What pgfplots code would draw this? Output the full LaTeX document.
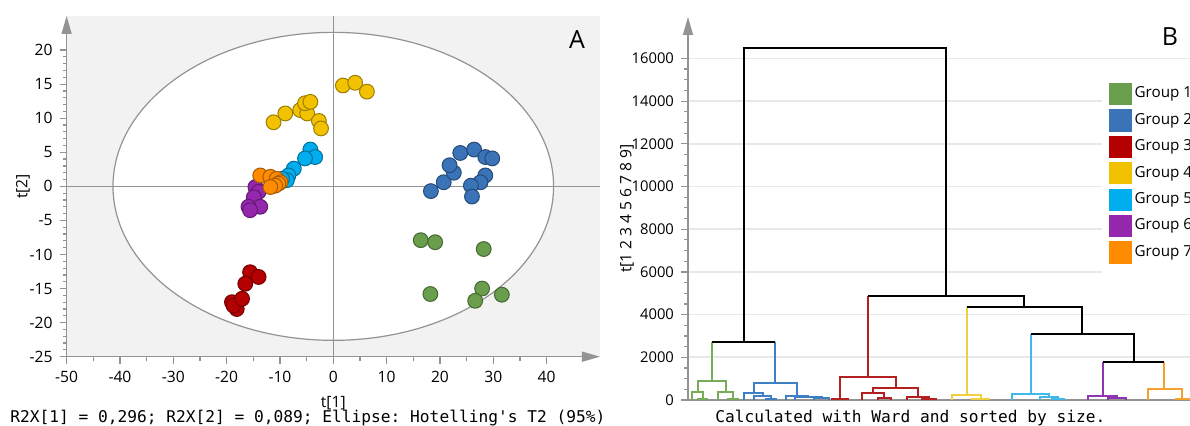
\documentclass[border=0pt]{standalone}
\usepackage{fontspec}
\setmainfont{Open Sans}
\setmonofont{DejaVu Sans Mono}
\usepackage{pgfplots}
\pgfplotsset{compat=1.18}
\usetikzlibrary{arrows.meta}

% group colours (scores + legend)
\definecolor{gone}{HTML}{6A9E4C}
\definecolor{gtwo}{HTML}{3A73B8}
\definecolor{gthree}{HTML}{B40000}
\definecolor{gfour}{HTML}{F2C200}
\definecolor{gfive}{HTML}{00ADEF}
\definecolor{gsix}{HTML}{9527AE}
\definecolor{gseven}{HTML}{FF8C00}
% dendrogram line colours
\definecolor{done}{HTML}{78AC5A}
\definecolor{dtwo}{HTML}{3F7FC4}
\definecolor{dthree}{HTML}{B22020}
\definecolor{dfour}{HTML}{F0D040}
\definecolor{dfive}{HTML}{40B8E8}
\definecolor{dsix}{HTML}{9035B0}
\definecolor{dseven}{HTML}{F5A030}

\pgfplotsset{
  pt/.style={only marks, mark=*, mark size=3.7pt,
    mark options={fill=#1, draw=#1!65!black, line width=0.5pt}},
  sqleg/.style={legend image code/.code={\fill[#1] (0pt,-5.3pt) rectangle (10.6pt,5.3pt);}},
  dn/.style={forget plot, #1, line width=0.9pt},
}

\begin{document}
\begin{tikzpicture}[font=\fontsize{7.8}{9}\selectfont]
\useasboundingbox (0,0) rectangle (595pt,-213pt);

% ---------------- A: score plot
\begin{axis}[
  at={(33.3pt,-178.35pt)}, anchor=south west,
  scale only axis, width=266.7pt, height=170.35pt,
  xmin=-50, xmax=50, ymin=-25, ymax=25,
  axis lines=left,
  axis line style={gray!85, line width=0.7pt, -{Triangle[length=9pt,width=5pt]}},
  axis background/.style={fill=black!5},
  xtick={-50,-40,...,40}, ytick={-25,-20,...,20},
  minor x tick num=1, minor y tick num=4,
  tick align=outside, major tick length=3.5pt, minor tick length=2pt,
  tick style={gray!85, line width=0.6pt},
  /pgf/number format/assume math mode=true,
  tick label style={font=\fontsize{7.8}{9}\selectfont},
  xlabel={t[1]}, ylabel={t[2]},
  ylabel style={yshift=-7pt},
  clip=false,
]
\draw[gray!85, fill=white, line width=0.6pt] (axis cs:0,0) ellipse [x radius=41.3, y radius=22.6];
\draw[gray!85, line width=0.6pt] (axis cs:-50,0) -- (axis cs:50,0);
\draw[gray!85, line width=0.6pt] (axis cs:0,-25) -- (axis cs:0,25);

\addplot[pt=gone] coordinates {
(16.4,-7.9)(19.1,-8.2)(28.2,-9.2)(18.2,-15.8)(27.9,-15.0)(26.6,-16.8)(31.6,-15.9)};
\addplot[pt=gtwo] coordinates {
(18.3,-0.7)(20.7,0.6)(22.6,2.0)(21.8,3.1)(23.8,4.9)(26.4,5.4)(28.5,4.3)(29.8,4.1)
(28.5,1.6)(27.6,0.6)(25.8,0.1)(26.0,-1.5)};
\addplot[pt=gthree] coordinates {
(-15.6,-12.6)(-14.0,-13.3)(-16.5,-14.3)(-19.0,-17.0)(-18.1,-18.0)(-18.7,-17.5)(-17.1,-16.5)};
\addplot[pt=gfour] coordinates {
(-11.2,9.4)(-9.0,10.7)(-6.2,11.2)(-4.9,10.7)(-5.3,12.2)(-4.3,12.4)(-2.7,9.6)(-2.3,8.5)
(1.8,14.8)(4.1,15.2)(6.3,13.9)};
\addplot[pt=gfive] coordinates {
(-4.3,5.4)(-3.4,4.3)(-5.3,4.1)(-7.4,2.6)(-8.4,1.6)(-8.7,0.9)(-9.6,1.1)};
\addplot[pt=gsix] coordinates {
(-14.6,-0.1)(-14.0,-0.8)(-14.9,-1.6)(-13.7,-3.0)(-15.9,-3.0)(-15.6,-3.5)};
\addplot[pt=gseven] coordinates {
(-13.7,1.6)(-11.8,1.4)(-10.6,1.1)(-9.9,0.6)(-10.3,0.4)(-10.9,0.1)(-11.8,-0.1)};
\end{axis}

% ---------------- B: dendrogram
\begin{axis}[
  at={(344pt,-200pt)}, anchor=south west,
  scale only axis, width=256pt, height=191.5pt,
  xmin=688, xmax=1200, ymin=0, ymax=17940,
  axis lines=left,
  axis line style={gray!85, line width=0.7pt},
  y axis line style={-{Triangle[length=9pt,width=5pt]}},
  x axis line style={-},
  xtick=\empty, ytick={0,2000,...,16000}, minor y tick num=3,
  tick align=outside, major tick length=3.5pt, minor tick length=2pt,
  tick style={gray!85, line width=0.6pt},
  ymajorgrids, grid style={gray!18, line width=0.8pt},
  scaled y ticks=false,
  /pgf/number format/1000 sep={},
  /pgf/number format/assume math mode=true,
  tick label style={font=\fontsize{7.4}{9}\selectfont},
  ylabel={t[1 2 3 4 5 6 7 8 9]},
  ylabel style={yshift=-8pt},
  unbounded coords=jump,
  legend style={at={(axis description cs:0.8086,0.855)}, anchor=north west,
    draw=none, fill=white, inner xsep=3.5pt, inner ysep=5pt, row sep=2.2pt,
    font=\fontsize{7.6}{9}\selectfont, nodes={inner xsep=1.6pt}},
  legend cell align=left,
  clip=false,
]
\addlegendimage{sqleg=gone}
\addlegendimage{sqleg=gtwo}
\addlegendimage{sqleg=gthree}
\addlegendimage{sqleg=gfour}
\addlegendimage{sqleg=gfive}
\addlegendimage{sqleg=gsix}
\addlegendimage{sqleg=gseven}
\legend{Group 1,Group 2,Group 3,Group 4,Group 5,Group 6,Group 7}

\addplot[dn=done] coordinates {
(712,2730)(712,905)(712,inf)
(697.7,390)(697.7,905)(725.7,905)(725.7,360)(725.7,inf)
(692,0)(692,390)(702.7,390)(702.7,45)(702.7,inf)
(698,0)(698,45)(707,45)(707,0)(707,inf)
(718.3,0)(718.3,360)(733.3,360)(733.3,30)(733.3,inf)
(728,0)(728,30)(738,30)(738,0)};
\addplot[dn=dtwo] coordinates {
(775,2730)(775,780)(775,inf)
(754,313)(754,780)(797.3,780)(797.3,200)(797.3,inf)
(744.3,0)(744.3,313)(762.7,313)(762.7,170)(762.7,inf)
(754,0)(754,170)(771,170)(771,40)(771,inf)
(766,0)(766,40)(776,40)(776,0)(776,inf)
(786,0)(786,200)(808.3,200)(808.3,150)(808.3,inf)
(795,0)(795,150)(821.6,150)(821.6,80)(821.6,inf)
(814,0)(814,80)(829,80)(829,0)};
\addplot[dn=dthree] coordinates {
(868.3,4870)(868.3,1090)(868.3,inf)
(840,40)(840,1090)(896,1090)(896,577)(896,inf)
(832,0)(832,40)(848,40)(848,0)(848,inf)
(873.3,340)(873.3,577)(918.3,577)(918.3,155)(918.3,inf)
(862.3,0)(862.3,340)(884.3,340)(884.3,80)(884.3,inf)
(878,0)(878,80)(890.6,80)(890.6,0)(890.6,inf)
(906.7,0)(906.7,155)(929.3,155)(929.3,40)(929.3,inf)
(922,0)(922,40)(936,40)(936,0)};
\addplot[dn=dfour] coordinates {
(966.7,4340)(966.7,234)(966.7,inf)
(951.7,0)(951.7,234)(980.7,234)(980.7,60)(980.7,inf)
(972,0)(972,60)(989,60)(989,0)};
\addplot[dn=dfive] coordinates {
(1031,3090)(1031,265)(1031,inf)
(1012.3,0)(1012.3,265)(1049,265)(1049,150)(1049,inf)
(1040,0)(1040,150)(1058,150)(1058,40)(1058,inf)
(1052,0)(1052,40)(1064,40)(1064,0)};
\addplot[dn=dsix] coordinates {
(1102.7,1765)(1102.7,200)(1102.7,inf)
(1087.7,0)(1087.7,200)(1117.3,200)(1117.3,100)(1117.3,inf)
(1108,0)(1108,100)(1126,100)(1126,0)};
\addplot[dn=dseven] coordinates {
(1164.3,1765)(1164.3,515)(1164.3,inf)
(1147.7,0)(1147.7,515)(1182.3,515)(1182.3,40)(1182.3,inf)
(1176,0)(1176,40)(1190,40)(1190,0)};
\addplot[forget plot, black, line width=1.1pt] coordinates {
(712,2730)(775,2730)(775,inf)
(744,2730)(744,16470)(945.7,16470)(945.7,4870)(945.7,inf)
(868.3,4870)(1024,4870)(1024,4340)(1024,inf)
(966.7,4340)(1082.3,4340)(1082.3,3090)(1082.3,inf)
(1031,3090)(1134,3090)(1134,1765)(1134,inf)
(1102.7,1765)(1164.3,1765)};
\end{axis}

\node[font=\fontsize{12.5}{14}\selectfont] at (288.5pt,-20pt) {A};
\node[font=\fontsize{12.5}{14}\selectfont] at (585pt,-18.5pt) {B};
\node[anchor=west, inner sep=0pt, font=\ttfamily\fontsize{8.1}{9}\selectfont]
  at (5pt,-209pt) {R2X[1] = 0,296; R2X[2] = 0,089; Ellipse: Hotelling's T2 (95\%)};
\node[anchor=west, inner sep=0pt, font=\ttfamily\fontsize{8.1}{9}\selectfont]
  at (357.5pt,-209pt) {Calculated with Ward and sorted by size.};
\end{tikzpicture}
\end{document}
